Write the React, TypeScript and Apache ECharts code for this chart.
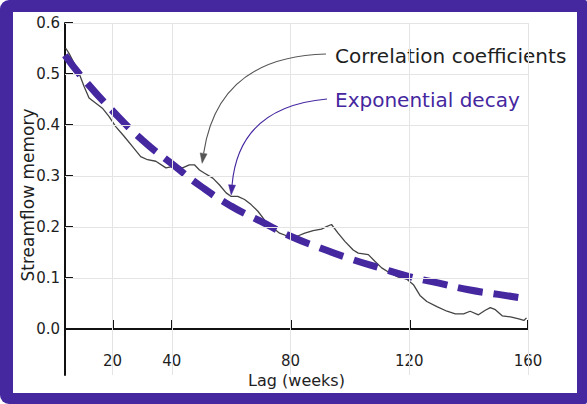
import React, { useEffect, useRef } from "react";
import * as echarts from "echarts";

// ---- data ----
const lagObs = [4.2, 5.3, 7, 8.7, 10.4, 12.1, 14.3, 16.6, 18.8, 21.1, 23.9, 26.7, 29.5, 31.8, 34.6, 38, 41.4, 43.6, 45.9, 47.6, 49.3, 50.9, 53.8, 56, 58.3, 60, 62.2, 64.5, 66.7, 69, 71.2, 73.5, 76.3, 79.1, 82.2, 84.8, 87.6, 90.4, 92.1, 93.8, 96, 98.3, 101.1, 102.8, 106.2, 108.4, 110.7, 113.5, 116.3, 119.1, 121.4, 123.6, 125.9, 129.3, 132.7, 135.5, 138.3, 140.5, 143.3, 145.6, 147.3, 149, 151.3, 154.1, 156.9, 158.6, 159.5];
const corrObs = [0.551, 0.541, 0.522, 0.502, 0.476, 0.453, 0.443, 0.433, 0.417, 0.397, 0.378, 0.358, 0.338, 0.332, 0.329, 0.316, 0.32, 0.316, 0.322, 0.322, 0.312, 0.306, 0.296, 0.283, 0.267, 0.26, 0.26, 0.254, 0.244, 0.231, 0.214, 0.201, 0.188, 0.182, 0.182, 0.188, 0.193, 0.196, 0.201, 0.205, 0.188, 0.172, 0.155, 0.149, 0.146, 0.133, 0.12, 0.11, 0.102, 0.098, 0.087, 0.066, 0.054, 0.044, 0.035, 0.03, 0.03, 0.035, 0.028, 0.037, 0.042, 0.038, 0.026, 0.024, 0.02, 0.017, 0.022];

const lagFit = [4, 10, 20, 30, 40, 50, 60, 70, 80, 90, 100, 110, 120, 130, 140, 150, 160];
const decayFit = [0.537, 0.492, 0.428, 0.371, 0.324, 0.279, 0.241, 0.211, 0.182, 0.159, 0.138, 0.12, 0.103, 0.09, 0.077, 0.068, 0.059];

const xTicks = [20, 40, 80, 120, 160];
const yTicks = [0, 0.1, 0.2, 0.3, 0.4, 0.5, 0.6];

const annCorrText = "Correlation coefficients";
const annDecayText = "Exponential decay";
const annCorrTip = [50.2, 0.325];
const annDecayTip = [60, 0.263];

const PURPLE = "#4527A0";
const FONT = "DejaVu Sans";
const GRIDC = "#e4e4e4";

function arrow(p0: number[], p2: number[], rad: number, color: string) {
  const dx = p2[0] - p0[0];
  const dy = p2[1] - p0[1];
  const cx = (p0[0] + p2[0]) / 2 + rad * dy;
  const cy = (p0[1] + p2[1]) / 2 - rad * dx;
  let ux = p2[0] - cx;
  let uy = p2[1] - cy;
  const n = Math.hypot(ux, uy) || 1;
  ux /= n;
  uy /= n;
  const len = 10;
  const half = 3.5;
  const bx = p2[0] - ux * len;
  const by = p2[1] - uy * len;
  return [
    {
      type: "bezierCurve",
      silent: true,
      z: 10,
      shape: { x1: p0[0], y1: p0[1], x2: bx, y2: by, cpx1: cx, cpy1: cy },
      style: { stroke: color, lineWidth: 1.1, fill: "none" },
    },
    {
      type: "polygon",
      silent: true,
      z: 10,
      shape: {
        points: [
          [p2[0], p2[1]],
          [bx - uy * half, by + ux * half],
          [bx + uy * half, by - ux * half],
        ],
      },
      style: { fill: color, stroke: color, lineWidth: 0.5 },
    },
  ];
}

export default function App() {
  const ref = useRef<HTMLDivElement>(null);
  useEffect(() => {
    if (!ref.current) return;
    const chart = echarts.init(ref.current, null, { renderer: "svg" });
    chart.setOption({
      animation: false,
      backgroundColor: "transparent",
      textStyle: { fontFamily: FONT },
      grid: { left: 65, top: 23, width: 463, height: 352, containLabel: false, outerBoundsMode: "none" },
      xAxis: {
        type: "value",
        min: 4,
        max: 160,
        name: "Lag (weeks)",
        nameLocation: "middle",
        nameGap: -3,
        nameTextStyle: { fontSize: 16, color: "#1e1e1e", fontFamily: FONT },
        axisLine: { show: true, onZero: true, lineStyle: { color: "#111", width: 2 } },
        axisTick: { show: true, inside: true, length: 9, customValues: xTicks, lineStyle: { color: "#111", width: 2 } },
        axisLabel: { customValues: xTicks, margin: -22, fontSize: 15, color: "#1e1e1e", fontFamily: FONT },
        splitLine: { show: false },
      },
      yAxis: {
        type: "value",
        min: -0.09,
        max: 0.6,
        axisLine: { show: true, lineStyle: { color: "#111", width: 2 } },
        axisTick: { show: true, inside: true, length: 8, customValues: yTicks, lineStyle: { color: "#111", width: 2 } },
        axisLabel: {
          customValues: yTicks,
          margin: 5,
          fontSize: 15,
          color: "#1e1e1e",
          fontFamily: FONT,
          formatter: (v: number) => v.toFixed(1),
        },
        splitLine: { show: false },
      },
      series: [
        {
          type: "line",
          data: [],
          silent: true,
          z: 1,
          markLine: {
            silent: true,
            symbol: "none",
            label: { show: false },
            lineStyle: { color: GRIDC, width: 1, type: "solid" },
            data: [
              ...xTicks.map((v) => ({ xAxis: v })),
              ...yTicks.filter((v) => v > 0).map((v) => ({ yAxis: v })),
            ],
          },
        },
        {
          type: "line",
          data: lagObs.map((l, i) => [l, corrObs[i]]),
          showSymbol: false,
          lineStyle: { color: "#444", width: 1.3 },
          z: 3,
        },
        {
          type: "line",
          data: lagFit.map((l, i) => [l, decayFit[i]]),
          showSymbol: false,
          smooth: true,
          lineStyle: { color: PURPLE, width: 7, type: [25, 11], cap: "butt" },
          z: 4,
        },
      ],
    });

    const tipC = chart.convertToPixel({ xAxisIndex: 0, yAxisIndex: 0 }, annCorrTip) as number[];
    const tipD = chart.convertToPixel({ xAxisIndex: 0, yAxisIndex: 0 }, annDecayTip) as number[];
    const textX = 335;
    const textCY = 56;
    const textDY = 100;

    chart.setOption({
      graphic: [
        {
          type: "text",
          rotation: Math.PI / 2,
          x: 28,
          y: 195,
          silent: true,
          style: {
            text: "Streamflow memory",
            fill: "#1e1e1e",
            fontSize: 17,
            fontFamily: FONT,
            align: "center",
            verticalAlign: "middle",
            textAlign: "center",
            textVerticalAlign: "middle",
          },
        },
        {
          type: "text",
          x: textX,
          y: textCY,
          silent: true,
          style: {
            text: annCorrText,
            fill: "#1e1e1e",
            fontSize: 20,
            fontFamily: FONT,
            align: "left",
            verticalAlign: "middle",
            textAlign: "left",
            textVerticalAlign: "middle",
          },
        },
        {
          type: "text",
          x: textX,
          y: textDY,
          silent: true,
          style: {
            text: annDecayText,
            fill: PURPLE,
            fontSize: 20,
            fontFamily: FONT,
            align: "left",
            verticalAlign: "middle",
            textAlign: "left",
            textVerticalAlign: "middle",
          },
        },
        ...arrow([textX - 9, textCY - 2], tipC, -0.42, "#555"),
        ...arrow([textX - 8, textDY - 1], tipD, -0.42, PURPLE),
      ],
    });
    return () => chart.dispose();
  }, []);

  return (
    <div style={{ position: "fixed", left: 0, top: 0, width: 587, height: 404, background: "#fff" }}>
      <div
        style={{
          position: "absolute",
          left: 0,
          top: 0,
          width: 587,
          height: 404,
          background: PURPLE,
          borderRadius: "9px 2px 2px 9px",
        }}
      />
      <div style={{ position: "absolute", left: 13, top: 12, width: 564, height: 381, background: "#fff" }} />
      <div ref={ref} style={{ position: "absolute", left: 0, top: 0, width: 587, height: 404 }} />
    </div>
  );
}
